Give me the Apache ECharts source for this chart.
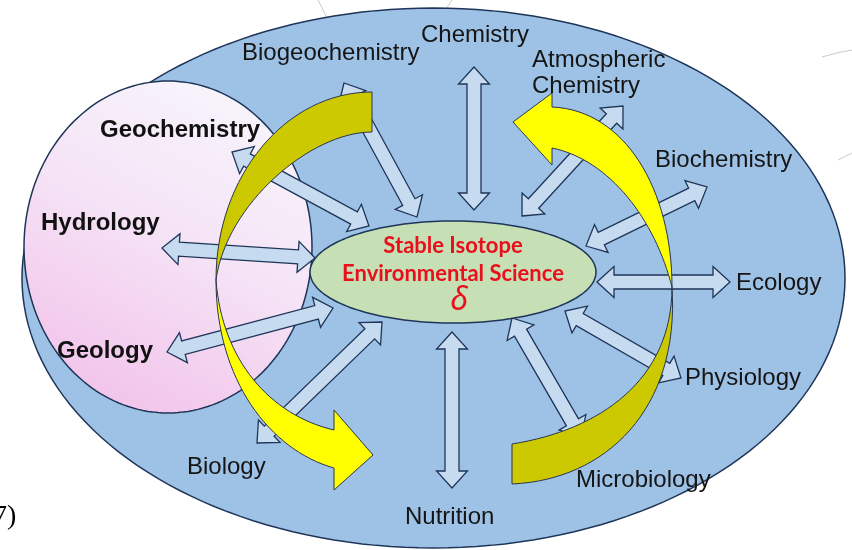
<!DOCTYPE html>
<html><head><meta charset="utf-8">
<script src="https://cdn.jsdelivr.net/npm/echarts@6/dist/echarts.min.js"></script>
<style>html,body{margin:0;padding:0;background:#fff}#c{width:852px;height:550px}</style>
</head><body><div id="c"></div>
<script>
// ---------------- data ----------------
// outer discipline labels (regular)
const fieldNames = ['Chemistry','Biogeochemistry','Atmospheric','Chemistry','Biochemistry','Ecology','Physiology','Microbiology','Nutrition','Biology'];
const fieldLeft  = [421, 242, 532, 532, 655, 736, 685, 576, 405, 187];
const fieldMid   = [35, 53, 60, 86, 160, 283, 378, 480, 517, 467];
// earth-science labels (bold)
const geoNames = ['Geochemistry','Hydrology','Geology'];
const geoLeft  = [100, 41, 57];
const geoMid   = [130, 223, 351];
// core text
const coreLines = ['Stable Isotope','Environmental Science','δ'];
const coreMid   = [246, 274, 301];
// double-headed links: tip A -> tip B
const linkAx = [474, 452, 344, 232, 162, 167, 257, 512, 565, 597, 586, 522];
const linkAy = [67, 332, 83, 152, 248, 352, 443, 318, 311, 282, 246, 216];
const linkBx = [474, 452, 417, 369, 315, 333, 382, 581, 681, 730, 707, 623];
const linkBy = [210, 488, 217, 226, 258, 308, 322, 437, 378, 282, 187, 106];
// ellipses: cx, cy, rx, ry
const outerOval = [433.5, 278, 411.5, 270];
const earthOval = [168, 247, 144, 166];
const coreOval  = [453, 272, 143, 51];

// ---------------- chart ----------------
const chart = echarts.init(document.getElementById('c'), null, {renderer: 'canvas'});
const NAVY = '#1f3558';

function renderAll(params, api) {
  const P = (x, y) => api.coord([x, y]);
  const ch = [];
  const path = (cmds) => cmds.map(c => {
    if (c[0] === 'Z') return 'Z';
    const out = [c[0]];
    for (let i = 1; i < c.length; i += 2) { const p = P(c[i], c[i + 1]); out.push(p[0].toFixed(2), p[1].toFixed(2)); }
    return out.join(' ');
  }).join(' ');
  const oval = (o) => {
    const pts = [];
    for (let i = 0; i < 180; i++) { const a = i / 180 * Math.PI * 2; pts.push(P(o[0] + o[2] * Math.cos(a), o[1] + o[3] * Math.sin(a))); }
    return pts;
  };
  // faint slide background lines
  const faint = {stroke: '#c3cec8', lineWidth: 1, fill: null};
  ch.push({type: 'path', shape: {pathData: path([['M', 318, 0], ['Q', 334, 34, 358, 62]])}, style: faint});
  ch.push({type: 'path', shape: {pathData: path([['M', 452, 0], ['L', 446, 9]])}, style: faint});
  ch.push({type: 'path', shape: {pathData: path([['M', 822, 57], ['Q', 838, 52, 852, 50]])}, style: faint});
  ch.push({type: 'path', shape: {pathData: path([['M', 838, 160], ['L', 852, 153]])}, style: faint});
  // outer oval
  ch.push({type: 'polygon', shape: {points: oval(outerOval)}, style: {fill: '#9dc2e6', stroke: NAVY, lineWidth: 1.5}});
  // earth-science oval
  ch.push({type: 'polygon', shape: {points: oval(earthOval)}, style: {
    fill: new echarts.graphic.LinearGradient(0.75, 0, 0.15, 1, [
      {offset: 0, color: '#f7f6fc'}, {offset: 0.45, color: '#f5e3f6'}, {offset: 1, color: '#f2bfe9'}]),
    stroke: NAVY, lineWidth: 1.5}});
  // double arrows
  const hl = 17, hw = 15.5, sw = 7;
  for (let i = 0; i < linkAx.length; i++) {
    const ax = linkAx[i], ay = linkAy[i], bx = linkBx[i], by = linkBy[i];
    const L = Math.hypot(bx - ax, by - ay), ux = (bx - ax) / L, uy = (by - ay) / L, nx = -uy, ny = ux;
    const q = (t, s) => P(ax + ux * t + nx * s, ay + uy * t + ny * s);
    const pts = [q(0, 0), q(hl, hw), q(hl, sw), q(L - hl, sw), q(L - hl, hw), q(L, 0), q(L - hl, -hw), q(L - hl, -sw), q(hl, -sw), q(hl, -hw)];
    ch.push({type: 'polygon', shape: {points: pts}, style: {fill: '#c6dbf0', stroke: NAVY, lineWidth: 1.3, lineJoin: 'miter'}});
  }
  // core oval
  ch.push({type: 'polygon', shape: {points: oval(coreOval)}, style: {fill: '#c6dfb4', stroke: NAVY, lineWidth: 1.5}});
  // yellow curved arrows
  const ys = {stroke: '#2a3550', lineWidth: 1, lineJoin: 'miter'};
  ch.push({type: 'path', shape: {pathData: path([
    ['M', 372, 92], ['C', 286, 92, 216, 176, 216, 280], ['C', 226, 205, 310, 132, 372, 132], ['Z']])},
    style: Object.assign({fill: '#cdc900'}, ys)});
  ch.push({type: 'path', shape: {pathData: path([
    ['M', 216, 280], ['C', 216, 380, 270, 450, 334, 468], ['L', 334, 490], ['L', 373, 455], ['L', 334, 410], ['L', 334, 430],
    ['C', 270, 415, 222, 360, 216, 280], ['Z']])},
    style: Object.assign({fill: '#ffff00'}, ys)});
  ch.push({type: 'path', shape: {pathData: path([
    ['M', 672, 287], ['C', 672, 380, 600, 430, 512, 444], ['L', 512, 484], ['C', 605, 480, 680, 410, 672, 287], ['Z']])},
    style: Object.assign({fill: '#cdc900'}, ys)});
  ch.push({type: 'path', shape: {pathData: path([
    ['M', 672, 287], ['C', 672, 190, 625, 110, 552, 107], ['L', 552, 93], ['L', 513, 122], ['L', 552, 165], ['L', 552, 148],
    ['C', 610, 160, 655, 220, 672, 287], ['Z']])},
    style: Object.assign({fill: '#ffff00'}, ys)});
  // labels
  for (let i = 0; i < fieldNames.length; i++) {
    const p = P(fieldLeft[i], fieldMid[i]);
    ch.push({type: 'text', x: p[0], y: p[1], style: {text: fieldNames[i], font: '24px "Liberation Sans", Arial, sans-serif', fill: '#151515', align: 'left', verticalAlign: 'middle'}});
  }
  for (let i = 0; i < geoNames.length; i++) {
    const p = P(geoLeft[i], geoMid[i]);
    ch.push({type: 'text', x: p[0], y: p[1], style: {text: geoNames[i], font: 'bold 24px "Liberation Sans", Arial, sans-serif', fill: '#111', align: 'left', verticalAlign: 'middle'}});
  }
  for (let i = 0; i < coreLines.length; i++) {
    const p = P(coreOval[0], coreMid[i]);
    const f = i < 2 ? 'bold 22px Lato, "Open Sans", sans-serif' : 'italic 32px "Noto Sans", sans-serif';
    ch.push({type: 'text', x: p[0] + (i === 2 ? 6 : 0), y: p[1], style: {text: coreLines[i], font: f, fill: '#e8101c', align: 'center', verticalAlign: 'middle'}});
  }
  const p7 = P(-7, 517);
  ch.push({type: 'text', x: p7[0], y: p7[1], style: {text: '7)', font: '28px "Liberation Serif", serif', fill: '#000', align: 'left', verticalAlign: 'middle'}});
  return {type: 'group', children: ch};
}

chart.setOption({
  animation: false,
  backgroundColor: '#ffffff',
  grid: {left: 0, right: 0, top: 0, bottom: 0},
  xAxis: {type: 'value', min: 0, max: 852, show: false},
  yAxis: {type: 'value', min: 0, max: 550, inverse: true, show: false},
  series: [{type: 'custom', coordinateSystem: 'cartesian2d', clip: false, data: [[0, 0]], renderItem: renderAll, silent: true}]
});
</script></body></html>
